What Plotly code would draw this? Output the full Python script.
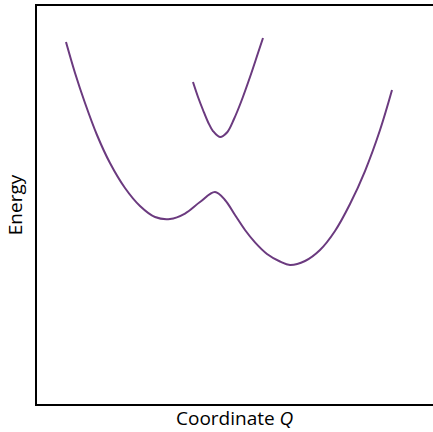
import plotly.graph_objects as go

# Lower (ground-state) potential curve
lower_q = [0.732, 0.960, 1.212, 1.515, 1.843, 2.222, 2.601, 2.980, 3.359, 3.737, 4.116, 4.495, 4.747,
           5.000, 5.253, 5.505, 5.808, 6.136, 6.389, 6.768, 7.146, 7.525, 7.904, 8.283, 8.662, 8.965]
lower_e = [9.095, 8.317, 7.563, 6.759, 6.055, 5.427, 4.975, 4.698, 4.648, 4.786, 5.075, 5.327, 5.126,
           4.749, 4.372, 4.060, 3.769, 3.580, 3.492, 3.593, 3.869, 4.347, 5.025, 5.854, 6.884, 7.889]

# Upper (excited-state) potential curve
upper_q = [3.939, 4.066, 4.192, 4.318, 4.444, 4.621, 4.798, 4.975, 5.152, 5.379, 5.581, 5.707]
upper_e = [8.090, 7.714, 7.387, 7.085, 6.859, 6.709, 6.822, 7.161, 7.588, 8.216, 8.819, 9.196]

color = "#6b3a7f"
fig = go.Figure()
for qs, es in ((lower_q, lower_e), (upper_q, upper_e)):
    fig.add_trace(go.Scatter(x=qs, y=es, mode="lines",
                             line=dict(color=color, width=2, shape="spline", smoothing=1.0,
                                       simplify=False),
                             hoverinfo="skip", showlegend=False))

font_family = "'Open Sans', 'Noto Sans', sans-serif"
fig.update_layout(
    width=433, height=432,
    margin=dict(l=37, r=0, t=6, b=28),
    paper_bgcolor="white", plot_bgcolor="white",
    xaxis=dict(range=[0, 10], showgrid=False, zeroline=False, showticklabels=False,
               ticks="", showline=True, linecolor="black", linewidth=2, mirror=True),
    yaxis=dict(range=[0, 10], showgrid=False, zeroline=False, showticklabels=False,
               ticks="", showline=True, linecolor="black", linewidth=2),
    annotations=[
        dict(text="Coordinate <i>Q</i>", x=0.5, y=-0.0704, xref="paper", yref="paper",
             xanchor="center", yanchor="bottom", showarrow=False, borderpad=0,
             font=dict(family=font_family, size=19, color="black")),
        dict(text="Energy", x=-0.055, y=0.5, xref="paper", yref="paper",
             xanchor="center", yanchor="middle", showarrow=False, textangle=-90,
             font=dict(family=font_family, size=19, color="black")),
    ],
)
fig.write_html("out.html")
